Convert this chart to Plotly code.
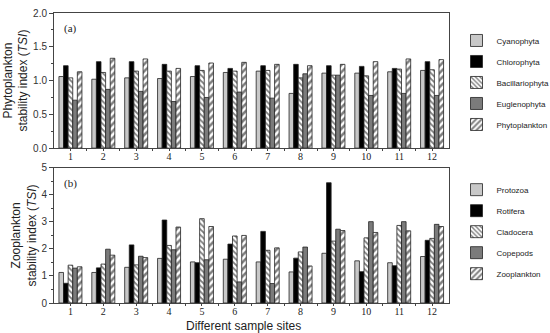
import plotly.graph_objects as go

sites = list(range(1, 12 + 1))
site_labels = [str(s) for s in sites]

# Panel (a): phytoplankton stability index
phyto_names = ["Cyanophyta", "Chlorophyta", "Bacillariophyta", "Euglenophyta", "Phytoplankton"]
cyanophyta = [1.06, 1.02, 1.04, 1.03, 1.06, 1.12, 1.14, 0.81, 1.11, 1.11, 1.13, 1.15]
chlorophyta = [1.22, 1.28, 1.28, 1.24, 1.22, 1.18, 1.22, 1.24, 1.22, 1.21, 1.18, 1.28]
bacillariophyta = [1.04, 1.12, 1.14, 1.14, 1.15, 1.14, 1.15, 1.04, 1.08, 1.07, 1.17, 1.16]
euglenophyta = [0.71, 0.87, 0.84, 0.69, 0.75, 0.83, 0.74, 1.10, 1.08, 0.78, 0.81, 0.78]
phytoplankton = [1.13, 1.33, 1.32, 1.18, 1.26, 1.27, 1.24, 1.22, 1.24, 1.28, 1.32, 1.31]

# Panel (b): zooplankton stability index
zoo_names = ["Protozoa", "Rotifera", "Cladocera", "Copepods", "Zooplankton"]
protozoa = [1.13, 1.13, 1.32, 1.65, 1.52, 1.62, 1.52, 1.15, 1.84, 1.56, 1.49, 1.72]
rotifera = [0.73, 1.30, 2.15, 3.07, 1.49, 2.18, 2.65, 1.66, 4.45, 1.16, 1.38, 2.32]
cladocera = [1.40, 1.44, 1.41, 2.13, 3.12, 2.48, 1.95, 1.89, 2.29, 2.41, 2.87, 2.39]
copepods = [1.29, 1.99, 1.73, 1.97, 1.60, 0.78, 0.72, 2.07, 2.73, 3.01, 3.01, 2.91]
zooplankton = [1.34, 1.77, 1.68, 2.81, 2.83, 2.50, 2.04, 1.37, 2.68, 2.61, 2.67, 2.83]

phyto_series = [cyanophyta, chlorophyta, bacillariophyta, euglenophyta, phytoplankton]
zoo_series = [protozoa, rotifera, cladocera, copepods, zooplankton]

styles = [
    dict(color="#c8c8c8"),
    dict(color="#000000"),
    dict(color="white", pattern=dict(shape="\\", fgcolor="black", bgcolor="white", size=4, solidity=0.45)),
    dict(color="#7b7b7b"),
    dict(color="white", pattern=dict(shape="/", fgcolor="black", bgcolor="white", size=5, solidity=0.5)),
]

fig = go.Figure()

for i, (name, vals) in enumerate(zip(phyto_names, phyto_series)):
    m = dict(styles[i])
    m["line"] = dict(color="#222222", width=0.8)
    fig.add_trace(go.Bar(x=sites, y=vals, name=name, marker=m, xaxis="x", yaxis="y",
                         legend="legend", legendgroup="a%d" % i))

for i, (name, vals) in enumerate(zip(zoo_names, zoo_series)):
    m = dict(styles[i])
    m["line"] = dict(color="#222222", width=0.8)
    fig.add_trace(go.Bar(x=sites, y=vals, name=name, marker=m, xaxis="x2", yaxis="y2",
                         legend="legend2", legendgroup="b%d" % i))

sans = "Liberation Sans, Arial, sans-serif"
serif = "Liberation Serif, Times New Roman, serif"

xcommon = dict(
    range=[0.5, 12.5], tickmode="array", tickvals=sites, ticktext=site_labels,
    ticks="outside", ticklen=2, tickcolor="#444", showline=True, linecolor="#444",
    linewidth=1, mirror=True, showgrid=False, zeroline=False, automargin=False,
    ticklabelstandoff=-3,
    tickfont=dict(family=serif, size=10, color="#222"),
    minor=dict(tickvals=[s + 0.5 for s in sites[:-1]], ticks="outside", ticklen=2, tickcolor="#444"),
)
ycommon = dict(
    ticks="outside", ticklen=4, tickcolor="#444", showline=True, linecolor="#444",
    linewidth=1, mirror=True, showgrid=False, zeroline=False, automargin=True,
    tickfont=dict(family=sans, size=10, color="#333"),
    title_font=dict(family=sans, size=12, color="#222"), title_standoff=2,
)

legcommon = dict(font=dict(family=sans, size=8, color="#222"), tracegroupgap=2,
                 bgcolor="rgba(0,0,0,0)", xanchor="left", yanchor="top",
                 xref="container", yref="container", x=0.83)

fig.update_layout(
    width=550, height=333,
    margin=dict(l=53, r=87, t=7, b=30),
    paper_bgcolor="white", plot_bgcolor="white",
    barmode="group", bargap=0.3, bargroupgap=0.0,
    xaxis=dict(domain=[0, 1], anchor="y", **xcommon),
    yaxis=dict(domain=[0.534, 1.0], anchor="x", range=[0, 2], dtick=0.5, tickformat=".1f",
               minor=dict(dtick=0.25, ticks="outside", ticklen=2, tickcolor="#444"),
               title_text="Phytoplankton<br>stability index (<i>TSI</i>)", **ycommon),
    xaxis2=dict(domain=[0, 1], anchor="y2", **xcommon),
    yaxis2=dict(domain=[0.0, 0.466], anchor="x2", range=[0, 5], dtick=1,
                minor=dict(dtick=0.5, ticks="outside", ticklen=2, tickcolor="#444"),
                title_text="Zooplankton<br>stability index (<i>TSI</i>)", **ycommon),
    legend=dict(y=0.922, **legcommon),
    legend2=dict(y=0.474, **legcommon),
    annotations=[
        dict(text="(a)", xref="x domain", yref="y domain", x=0.02, y=0.95, showarrow=False,
             xanchor="left", yanchor="top", font=dict(family=serif, size=11, color="#222")),
        dict(text="(b)", xref="x2 domain", yref="y2 domain", x=0.02, y=0.95, showarrow=False,
             xanchor="left", yanchor="top", font=dict(family=serif, size=11, color="#222")),
        dict(text="Different sample sites", xref="paper", yref="paper", x=0.48, y=-0.08,
             showarrow=False, xanchor="center", yanchor="middle",
             font=dict(family=sans, size=12, color="#222")),
    ],
)

fig.write_html("out.html", config={"displayModeBar": False},
               post_script="document.body.style.margin='0';document.body.style.overflow='hidden';")
